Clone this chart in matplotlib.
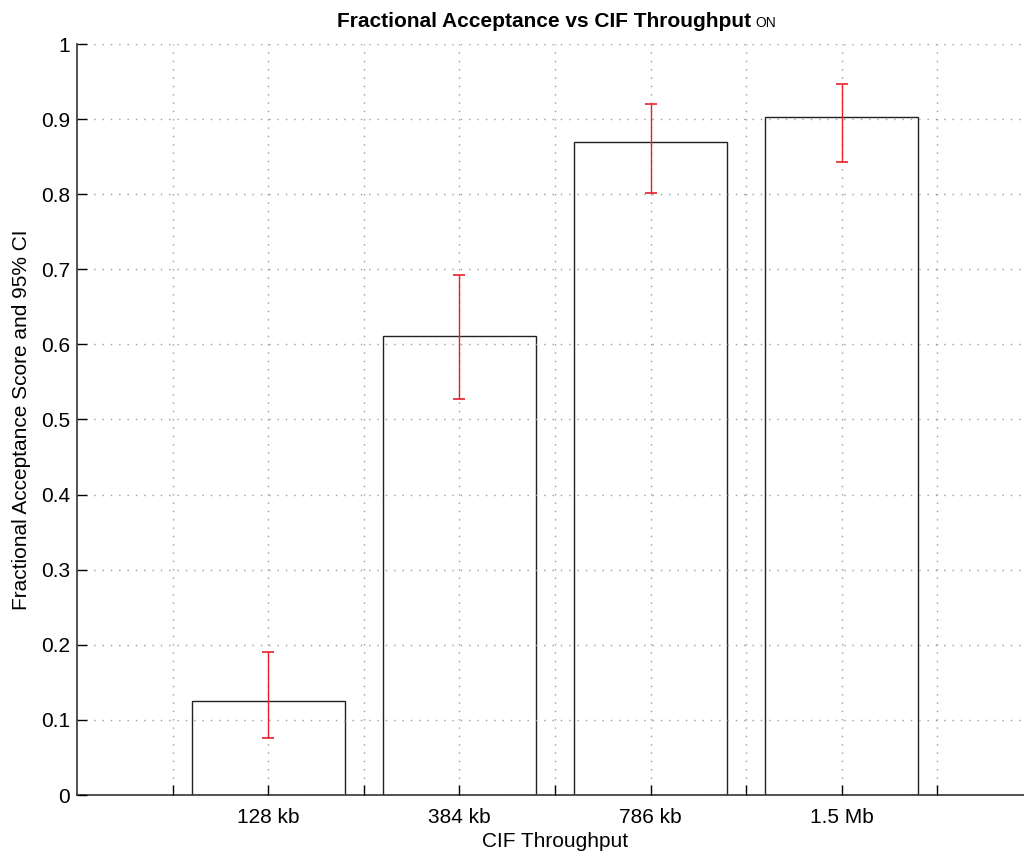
import matplotlib
matplotlib.use("Agg")
import matplotlib.pyplot as plt
import numpy as np

plt.rcParams['font.family'] = ['Liberation Sans', 'DejaVu Sans']

# acceptance score per throughput level, with 95% CI bounds
categories = ['128 kb', '384 kb', '786 kb', '1.5 Mb']
scores = [0.125, 0.611, 0.869, 0.903]
ci_low = [0.076, 0.527, 0.802, 0.843]
ci_high = [0.190, 0.692, 0.920, 0.947]

x = np.arange(1, len(categories) + 1)
scores = np.array(scores)
err = [scores - np.array(ci_low), np.array(ci_high) - scores]

fig = plt.figure(figsize=(10.24, 8.55), dpi=100)
ax = fig.add_axes([77 / 1024, 60 / 855, 956 / 1024, 751 / 855])

ax.bar(x, scores, width=0.8, color='white', edgecolor='#222222', linewidth=1.0, zorder=1)
ax.errorbar(x, scores, yerr=err, fmt='none', ecolor='#e8202a', elinewidth=1.0,
            capsize=4.2, capthick=1.2, zorder=3)

ax.set_xlim(0, 5)
ax.set_ylim(0, 1)

# ticks every half unit, labels only under the bars
xt = np.arange(0.5, 5, 0.5)
ax.set_xticks(xt)
ax.set_xticklabels([categories[int(t) - 1] if t == int(t) else '' for t in xt])
ax.set_yticks(np.arange(0, 1.01, 0.1))
ax.set_yticklabels(['0'] + ['%.1f' % v for v in np.arange(0.1, 0.95, 0.1)] + ['1'])

ax.tick_params(direction='in', length=7, width=1.0, labelsize=15, colors='black')
ax.tick_params(axis='x', pad=9)
ax.tick_params(axis='y', pad=5)

ax.grid(True, color='#9a9a9a', linestyle=(0, (1, 5)), linewidth=1.0, zorder=2)
ax.set_axisbelow(False)

for side in ['top', 'right']:
    ax.spines[side].set_visible(False)
for side in ['left', 'bottom']:
    ax.spines[side].set_color('#333333')
    ax.spines[side].set_linewidth(1.2)

ax.set_xlabel('CIF Throughput', fontsize=15, labelpad=4)
ax.set_ylabel('Fractional Acceptance Score and 95% CI', fontsize=15)
ax.yaxis.set_label_coords(-0.048, 0.5)

title = ax.text(0.4885, 1 + 17 / 751, 'Fractional Acceptance vs CIF Throughput',
                transform=ax.transAxes, ha='center', va='baseline',
                fontsize=15, fontweight='bold')
ax.annotate('ON', xy=(1, 0), xycoords=title, xytext=(3, 0.5),
            textcoords='offset points', ha='left', va='bottom', fontsize=10)

fig.savefig('out.png', dpi=100, facecolor='white')
